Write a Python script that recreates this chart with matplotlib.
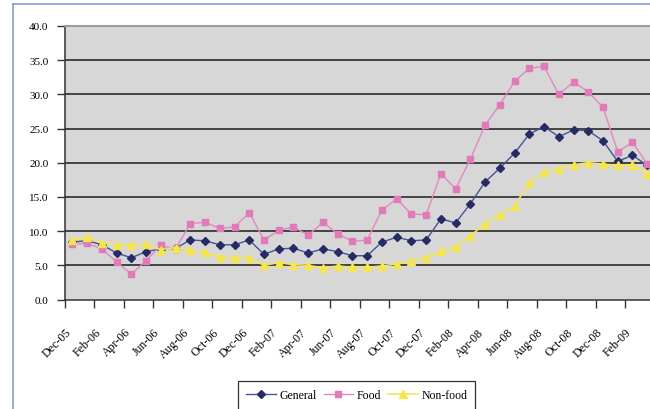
"""
CPI inflation chart - General / Food / Non-food (year on year, %)
"""
import numpy as np
import pandas as pd
import matplotlib
matplotlib.use("Agg")
import matplotlib.pyplot as plt
from matplotlib.lines import Line2D

# monthly categories Dec-05 .. Mar-09
months = list(pd.date_range("2005-12-01", periods=40, freq="MS").strftime("%b-%y"))
tick_labels = months[::2]

general = [8.4, 8.6, 8.0, 6.8, 6.1, 7.0, 7.4, 7.5, 8.7, 8.6,
           8.0, 8.0, 8.7, 6.6, 7.4, 7.5, 6.8, 7.4, 7.0, 6.4,
           6.4, 8.4, 9.1, 8.6, 8.7, 11.8, 11.2, 14.0, 17.2, 19.2,
           21.4, 24.2, 25.3, 23.8, 24.8, 24.7, 23.2, 20.2, 21.1, 19.6]
food = [8.1, 8.2, 7.4, 5.5, 3.7, 5.7, 7.9, 7.4, 11.1, 11.3,
        10.4, 10.6, 12.7, 8.7, 10.1, 10.6, 9.4, 11.3, 9.6, 8.5,
        8.7, 13.1, 14.7, 12.5, 12.4, 18.4, 16.2, 20.5, 25.5, 28.5,
        31.9, 33.8, 34.1, 30.0, 31.8, 30.4, 28.1, 21.6, 23.0, 19.8]
non_food = [8.7, 9.1, 8.3, 8.0, 8.0, 8.1, 7.3, 7.6, 7.2, 6.9,
            6.2, 6.1, 6.1, 5.0, 5.4, 5.1, 5.0, 4.6, 4.9, 4.7,
            4.7, 4.9, 5.2, 5.7, 6.1, 7.1, 7.7, 9.3, 11.1, 12.4,
            13.7, 17.1, 18.6, 19.1, 19.7, 20.0, 19.8, 19.6, 19.7, 18.4]
y_ticks = [0, 5, 10, 15, 20, 25, 30, 35, 40]

SERIF = "Liberation Serif"
W, H = 650, 410

fig = plt.figure(figsize=(W / 100, H / 100), dpi=100)
fig.patch.set_facecolor("white")

# plot area in pixel coords (left, top, right, bottom)
left, top, right, bottom = 65, 27, 654.6, 300.5
ax = fig.add_axes([left / W, 1 - bottom / H, (right - left) / W, (bottom - top) / H])
ax.set_facecolor("#d7d7d7")

x = np.arange(len(months))
ax.plot(x, general, color="#43539a", lw=1.0, marker="D", ms=4.2,
        mfc="#262b66", mec="#262b66", label="General", zorder=3)
ax.plot(x, food, color="#e387c0", lw=1.0, marker="s", ms=5,
        mfc="#e07ab8", mec="#e07ab8", label="Food", zorder=4)
ax.plot(x, non_food, color="#f3e65a", lw=1.2, marker="^", ms=6,
        mfc="#f5e64e", mec="#f5e64e", label="Non-food", zorder=5)

ax.set_xlim(-0.5, len(months) - 0.5)
ax.set_ylim(0, 40)

# horizontal gridlines
for v in y_ticks[1:-1]:
    ax.axhline(v, color="#1a1a1a", lw=1.1, zorder=1)

ax.set_yticks(y_ticks)
ax.set_yticklabels([f"{v:.1f}" for v in y_ticks], fontfamily=SERIF, fontsize=8)
ax.tick_params(axis="y", length=6, width=1, color="#333333", pad=6)

# tick marks between categories, labels on every second month
ax.set_xticks(np.arange(-0.5, len(months), 2))
ax.set_xticklabels([])
ax.tick_params(axis="x", which="major", length=6, width=1, color="#333333")
ax.set_xticks(np.arange(0, len(months), 2) - 0.2, minor=True)
ax.set_xticklabels(tick_labels, minor=True, fontfamily=SERIF, fontsize=8.6)
ax.tick_params(axis="x", which="minor", length=0, pad=22)
for lab in ax.get_xticklabels(minor=True):
    lab.set_rotation(45)
    lab.set_ha("right")
    lab.set_va("center")
    lab.set_rotation_mode("anchor")

for side in ["left", "bottom"]:
    ax.spines[side].set_color("#333333")
    ax.spines[side].set_linewidth(1.1)
ax.spines["top"].set_color("#9c9c9c")
ax.spines["top"].set_linewidth(1.5)
ax.spines["right"].set_visible(False)

# outer chart border (only top and left visible in crop)
border = "#7f9fd0"
fig.add_artist(Line2D([13 / W, 13 / W], [1 - 5 / H, 0], color=border, lw=1.2,
                      transform=fig.transFigure))
fig.add_artist(Line2D([13 / W, 1], [1 - 5 / H, 1 - 5 / H], color=border, lw=1.2,
                      transform=fig.transFigure))

leg = fig.legend(loc="upper left", bbox_to_anchor=(238 / W, 1 - 382 / H),
                 bbox_transform=fig.transFigure, ncol=3, numpoints=1,
                 frameon=True, fancybox=False, edgecolor="black",
                 borderaxespad=0, borderpad=0.7, handlelength=2.5,
                 handletextpad=0.3, columnspacing=0.6,
                 prop={"family": SERIF, "size": 8.5})
leg.get_frame().set_linewidth(0.9)

plt.savefig("out.png", dpi=100)
plt.close()
